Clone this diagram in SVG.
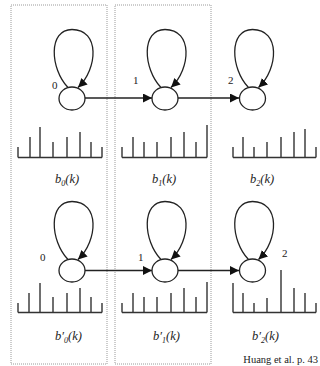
<svg xmlns="http://www.w3.org/2000/svg" width="320" height="366" viewBox="0 0 320 366">
<style>
.frame{fill:none;stroke:#9a9a9a;stroke-width:1;stroke-dasharray:1 1}
.node{fill:#fff;stroke:#222;stroke-width:1.3}
.loop{fill:none;stroke:#222;stroke-width:1.3}
.edge{fill:none;stroke:#222;stroke-width:1.3}
.hist{fill:none;stroke:#333;stroke-width:1.4}
.num{font-family:"Liberation Serif",serif;font-size:11px;fill:#222}
.lab{font-family:"Liberation Serif",serif;font-size:12.5px;font-style:italic;fill:#222}
.cap{font-family:"Liberation Serif",serif;font-size:10.5px;fill:#222}
</style>
<defs>
<marker id="ah" viewBox="0 0 10 10" refX="10" refY="5" markerWidth="9" markerHeight="9" markerUnits="userSpaceOnUse" orient="auto">
<path d="M0,0 L10,5 L0,10 Z" fill="#111"/>
</marker>
</defs>
<rect class="frame" x="11" y="5" width="96" height="359"/>
<rect class="frame" x="115" y="5" width="96" height="359"/>
<g id="connectors">
<path class="edge" d="M85,98 L152,98" marker-end="url(#ah)"/>
<path class="edge" d="M178,98 L239,98" marker-end="url(#ah)"/>
<path class="edge" d="M85,270.5 L152,270.5" marker-end="url(#ah)"/>
<path class="edge" d="M178,270.5 L239,270.5" marker-end="url(#ah)"/>
</g>
<g id="s0" transform="translate(72,98.5)">
<path class="loop" d="M-4,-11 C-22,-30 -24,-69 0,-69 C28,-69 26,-30 6,-11" marker-end="url(#ah)"/>
<ellipse class="node" cx="0" cy="0" rx="13" ry="11.5"/>
</g>
<g id="s1" transform="translate(165,98.5)">
<path class="loop" d="M-4,-11 C-22,-30 -24,-69 0,-69 C28,-69 26,-30 6,-11" marker-end="url(#ah)"/>
<ellipse class="node" cx="0" cy="0" rx="13" ry="11.5"/>
</g>
<g id="s2" transform="translate(252.5,98.5)">
<path class="loop" d="M-4,-11 C-22,-30 -24,-69 0,-69 C28,-69 26,-30 6,-11" marker-end="url(#ah)"/>
<ellipse class="node" cx="0" cy="0" rx="13" ry="11.5"/>
</g>
<g id="t0" transform="translate(72,270.5)">
<path class="loop" d="M-4,-11 C-22,-30 -24,-69 0,-69 C28,-69 26,-30 6,-11" marker-end="url(#ah)"/>
<ellipse class="node" cx="0" cy="0" rx="13" ry="11.5"/>
</g>
<g id="t1" transform="translate(165,270.5)">
<path class="loop" d="M-4,-11 C-22,-30 -24,-69 0,-69 C28,-69 26,-30 6,-11" marker-end="url(#ah)"/>
<ellipse class="node" cx="0" cy="0" rx="13" ry="11.5"/>
</g>
<g id="t2" transform="translate(252.5,270.5)">
<path class="loop" d="M-4,-11 C-22,-30 -24,-69 0,-69 C28,-69 26,-30 6,-11" marker-end="url(#ah)"/>
<ellipse class="node" cx="0" cy="0" rx="13" ry="11.5"/>
</g>
<g id="state-numbers">
<text class="num" x="52" y="89">0</text>
<text class="num" x="133" y="84">1</text>
<text class="num" x="228" y="84">2</text>
<text class="num" x="40" y="261">0</text>
<text class="num" x="138" y="261">1</text>
<text class="num" x="282" y="257">2</text>
</g>
<g id="hist-b0">
<path class="hist" d="M18,157.5 H102 M18,157.5 V147 M30,157.5 V137 M40,157.5 V127 M53,157.5 V142 M67,157.5 V137 M80,157.5 V132 M91,157.5 V142 M102,157.5 V147"/>
</g>
<g id="hist-b1">
<path class="hist" d="M122,157.5 H207 M122,157.5 V147 M133,157.5 V137 M144,157.5 V142 M157,157.5 V142 M171,157.5 V137 M184,157.5 V132 M196,157.5 V142 M207,157.5 V125"/>
</g>
<g id="hist-b2">
<path class="hist" d="M233,157.5 H316 M233,157.5 V147 M243,157.5 V137 M254,157.5 V147 M267,157.5 V142 M281,157.5 V137 M294,157.5 V132 M305,157.5 V129 M316,157.5 V147"/>
</g>
<g id="hist-bp0">
<path class="hist" d="M18,312.5 H102 M18,312.5 V303 M29,312.5 V293 M40,312.5 V283 M53,312.5 V297 M67,312.5 V293 M80,312.5 V288 M91,312.5 V297 M102,312.5 V303"/>
</g>
<g id="hist-bp1">
<path class="hist" d="M122,312.5 H207 M122,312.5 V303 M133,312.5 V293 M144,312.5 V297 M157,312.5 V297 M171,312.5 V293 M184,312.5 V288 M196,312.5 V297 M207,312.5 V282"/>
</g>
<g id="hist-bp2">
<path class="hist" d="M233,312.5 H316 M233,312.5 V283 M243,312.5 V293 M254,312.5 V303 M267,312.5 V298 M281,312.5 V270 M294,312.5 V288 M305,312.5 V293 M316,312.5 V303"/>
</g>
<g id="labels">
<text class="lab" x="55" y="183">b<tspan font-size="8" dy="2.5">0</tspan><tspan dy="-2.5">(k)</tspan></text>
<text class="lab" x="152" y="183">b<tspan font-size="8" dy="2.5">1</tspan><tspan dy="-2.5">(k)</tspan></text>
<text class="lab" x="250" y="183">b<tspan font-size="8" dy="2.5">2</tspan><tspan dy="-2.5">(k)</tspan></text>
<text class="lab" x="55" y="340">b′<tspan font-size="8" dy="2.5">0</tspan><tspan dy="-2.5">(k)</tspan></text>
<text class="lab" x="153" y="340">b′<tspan font-size="8" dy="2.5">1</tspan><tspan dy="-2.5">(k)</tspan></text>
<text class="lab" x="252" y="340">b′<tspan font-size="8" dy="2.5">2</tspan><tspan dy="-2.5">(k)</tspan></text>
</g>
<text class="cap" x="318" y="363" text-anchor="end">Huang et al. p. 43</text>
</svg>
